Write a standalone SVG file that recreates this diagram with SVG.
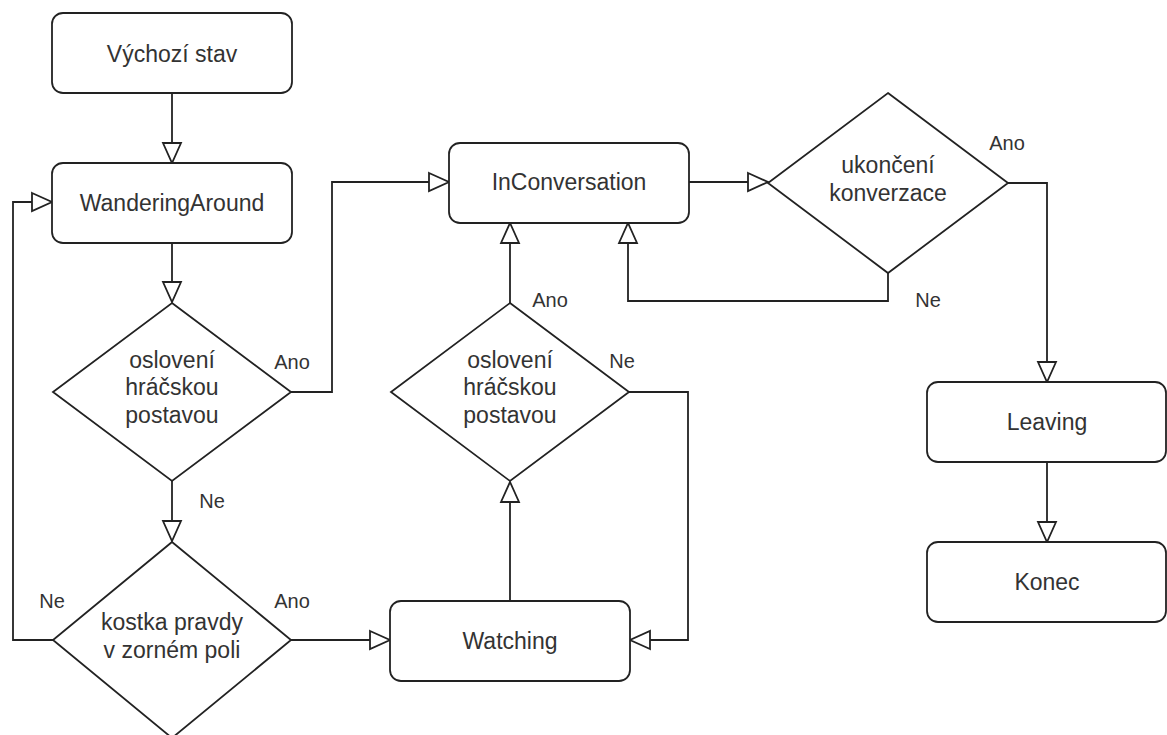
<svg xmlns="http://www.w3.org/2000/svg" width="1167" height="735" viewBox="0 0 1167 735">
<style>
.box{fill:#fff;stroke:#222;stroke-width:1.8}
.t{font-family:"Liberation Sans",Arial,sans-serif;font-size:23px;fill:#333;text-anchor:middle}
.lb{font-family:"Liberation Sans",Arial,sans-serif;font-size:20px;fill:#333;text-anchor:middle}
.c{fill:none;stroke:#222;stroke-width:1.8;marker-end:url(#arr)}
</style>
<defs>
<marker id="arr" markerUnits="userSpaceOnUse" markerWidth="24" markerHeight="22" refX="20" refY="9" orient="auto" overflow="visible">
<path d="M0,0 L20,9 L0,18 Z" fill="#fff" stroke="#222" stroke-width="1.8"/>
</marker>
</defs>
<rect width="1167" height="735" fill="#fff"/>
<g id="connectors">
<path class="c" d="M172,93 V163"/>
<path class="c" d="M172,243 V302"/>
<path class="c" d="M291,392 H332 V182 H449"/>
<path class="c" d="M172,481 V541"/>
<path class="c" d="M53,640 H13 V202 H52"/>
<path class="c" d="M291,640 H390"/>
<path class="c" d="M510,601 V482"/>
<path class="c" d="M510,303 V223"/>
<path class="c" d="M629,392 H688 V640 H630"/>
<path class="c" d="M689,182 H768"/>
<path class="c" d="M888,273 V301 H628 V223"/>
<path class="c" d="M1008,183 H1047 V382"/>
<path class="c" d="M1047,462 V542"/>
<text class="lb" x="292" y="369">Ano</text>
<text class="lb" x="212" y="508">Ne</text>
<text class="lb" x="52" y="608">Ne</text>
<text class="lb" x="292" y="608">Ano</text>
<text class="lb" x="550" y="307">Ano</text>
<text class="lb" x="622" y="368">Ne</text>
<text class="lb" x="1007" y="150">Ano</text>
<text class="lb" x="928" y="307">Ne</text>
</g>
<g id="vychozi">
<rect class="box" x="52" y="13" width="240" height="80" rx="11"/>
<text class="t" x="172" y="62">Výchozí stav</text>
</g>
<g id="wandering">
<rect class="box" x="52" y="163" width="240" height="80" rx="11"/>
<text class="t" x="172" y="211">WanderingAround</text>
</g>
<g id="d1">
<polygon class="box" points="172,303 291,392 172,481 53,392"/>
<text class="t" x="172" y="368">oslovení</text>
<text class="t" x="172" y="395">hráčskou</text>
<text class="t" x="172" y="423">postavou</text>
</g>
<g id="d2">
<polygon class="box" points="172,542 291,640 172,738 53,640"/>
<text class="t" x="172" y="630">kostka pravdy</text>
<text class="t" x="172" y="658">v zorném poli</text>
</g>
<g id="inconversation">
<rect class="box" x="449" y="143" width="240" height="80" rx="11"/>
<text class="t" x="569" y="190">InConversation</text>
</g>
<g id="d4">
<polygon class="box" points="510,303 629,392 510,481 391,392"/>
<text class="t" x="510" y="368">oslovení</text>
<text class="t" x="510" y="395">hráčskou</text>
<text class="t" x="510" y="423">postavou</text>
</g>
<g id="watching">
<rect class="box" x="390" y="601" width="240" height="80" rx="11"/>
<text class="t" x="510" y="649">Watching</text>
</g>
<g id="d3">
<polygon class="box" points="888,93 1008,183 888,273 768,183"/>
<text class="t" x="888" y="173">ukončení</text>
<text class="t" x="888" y="201">konverzace</text>
</g>
<g id="leaving">
<rect class="box" x="927" y="382" width="239" height="80" rx="11"/>
<text class="t" x="1047" y="430">Leaving</text>
</g>
<g id="konec">
<rect class="box" x="927" y="542" width="239" height="80" rx="11"/>
<text class="t" x="1047" y="590">Konec</text>
</g>
</svg>
